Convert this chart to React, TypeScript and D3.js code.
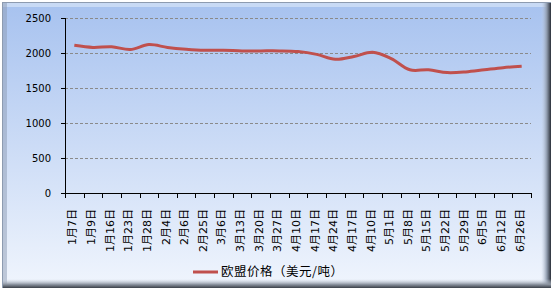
import React, { useEffect, useRef } from "react";
import * as d3 from "d3";

const categories = ["1月7日","1月9日","1月16日","1月23日","1月28日","2月4日","2月6日","2月25日","3月6日","3月13日","3月20日","3月27日","4月10日","4月17日","4月24日","4月17日","4月10日","5月1日","5月8日","5月15日","5月22日","5月29日","6月5日","6月12日","6月26日"];
const values = [2110,2080,2090,2050,2120,2080,2055,2040,2040,2030,2030,2030,2020,1980,1910,1950,2010,1920,1760,1760,1720,1730,1760,1790,1810];
const yTicks = [0,500,1000,1500,2000,2500];
const seriesName = "欧盟价格（美元/吨）";

const W = 553, H = 290;
const plot = { left: 65, right: 531, top: 18, bottom: 193 };

export default function App() {
  const ref = useRef<SVGSVGElement>(null);
  useEffect(() => {
    const svg = d3.select(ref.current);
    svg.selectAll("*").remove();
    const defs = svg.append("defs");
    const bg = defs.append("linearGradient").attr("id", "bg").attr("x1", 0).attr("y1", 0).attr("x2", 0).attr("y2", 1);
    bg.append("stop").attr("offset", "0%").attr("stop-color", "#a7c2ef");
    bg.append("stop").attr("offset", "100%").attr("stop-color", "#f0f5fd");
    const rg = defs.append("linearGradient").attr("id", "rg").attr("x1", 0).attr("y1", 0).attr("x2", 1).attr("y2", 0);
    rg.append("stop").attr("offset", "0%").attr("stop-color", "#c8d4e6").attr("stop-opacity", 0);
    rg.append("stop").attr("offset", "60%").attr("stop-color", "#8a96a8");
    rg.append("stop").attr("offset", "100%").attr("stop-color", "#2a2f38");
    const bgr = defs.append("linearGradient").attr("id", "bgr").attr("x1", 0).attr("y1", 0).attr("x2", 0).attr("y2", 1);
    bgr.append("stop").attr("offset", "0%").attr("stop-color", "#c8d0dc").attr("stop-opacity", 0);
    bgr.append("stop").attr("offset", "60%").attr("stop-color", "#8c94a0");
    bgr.append("stop").attr("offset", "100%").attr("stop-color", "#3a3f48");

    // frame
    svg.append("rect").attr("x", 0).attr("y", 0).attr("width", W).attr("height", H).attr("fill", "#ffffff");
    svg.append("rect").attr("x", 2.5).attr("y", 2.5).attr("width", 548).attr("height", 285).attr("fill", "url(#bg)").attr("stroke", "#8d9bb0");
    svg.append("rect").attr("x", 3).attr("y", 3).attr("width", 547).attr("height", 4).attr("fill", "#d6e4f8").attr("opacity", 0.7);
    svg.append("rect").attr("x", 3).attr("y", 3).attr("width", 4).attr("height", 284).attr("fill", "#8e9cb4").attr("opacity", 0.5);
    svg.append("rect").attr("x", 541).attr("y", 3).attr("width", 10).attr("height", 285).attr("fill", "url(#rg)");
    svg.append("rect").attr("x", 3).attr("y", 279).attr("width", 548).attr("height", 9).attr("fill", "url(#bgr)");

    const x = d3.scaleBand<number>().domain(d3.range(categories.length)).range([plot.left, plot.right]);
    const y = d3.scaleLinear().domain([0, 2500]).range([plot.bottom, plot.top]);

    // gridlines
    svg.append("g").selectAll("line").data(yTicks.filter(d => d > 0)).join("line")
      .attr("x1", plot.left).attr("x2", plot.right)
      .attr("y1", d => Math.round(y(d)) + 0.5).attr("y2", d => Math.round(y(d)) + 0.5)
      .attr("stroke", "#8a8a8a").attr("stroke-dasharray", "3,2");

    // y axis
    svg.append("line").attr("x1", plot.left + 0.5).attr("x2", plot.left + 0.5).attr("y1", plot.top).attr("y2", plot.bottom).attr("stroke", "#000");
    svg.append("g").selectAll("line").data(yTicks).join("line")
      .attr("x1", plot.left - 4).attr("x2", plot.left)
      .attr("y1", d => Math.round(y(d)) + 0.5).attr("y2", d => Math.round(y(d)) + 0.5).attr("stroke", "#000");
    svg.append("g").selectAll("text").data(yTicks).join("text")
      .attr("x", 51).attr("y", d => y(d)).attr("dy", "0.36em").attr("text-anchor", "end")
      .attr("font-family", "Verdana, 'DejaVu Sans', sans-serif").attr("font-size", 10).attr("fill", "#000")
      .text(d => d);

    // x axis
    svg.append("line").attr("x1", plot.left).attr("x2", plot.right).attr("y1", plot.bottom + 0.5).attr("y2", plot.bottom + 0.5).attr("stroke", "#000");
    const bounds = d3.range(categories.length + 1).map(i => plot.left + i * x.step());
    svg.append("g").selectAll("line").data(bounds).join("line")
      .attr("x1", d => Math.round(d) + 0.5).attr("x2", d => Math.round(d) + 0.5)
      .attr("y1", plot.bottom).attr("y2", plot.bottom + 5).attr("stroke", "#000");
    svg.append("g").selectAll("text").data(categories).join("text")
      .attr("transform", (d, i) => `translate(${x(i)! + x.bandwidth() / 2 + 2},209) rotate(-90)`)
      .attr("text-anchor", "end")
      .attr("font-family", "'DejaVu Sans', 'Noto Sans CJK SC', sans-serif").attr("font-size", 11).attr("fill", "#000")
      .text(d => d);

    // line
    const line = d3.line<number>()
      .x((d, i) => x(i)! + x.bandwidth() / 2)
      .y(d => y(d))
      .curve(d3.curveCatmullRom.alpha(0.5));
    svg.append("path").datum(values).attr("d", line).attr("fill", "none")
      .attr("stroke", "#c0504d").attr("stroke-width", 3).attr("stroke-linejoin", "round");

    // legend
    svg.append("line").attr("x1", 193).attr("x2", 218).attr("y1", 272).attr("y2", 272).attr("stroke", "#c0504d").attr("stroke-width", 3);
    svg.append("text").attr("x", 221).attr("y", 272).attr("dy", "0.35em")
      .attr("font-family", "'Noto Sans CJK SC', sans-serif").attr("font-size", 12.5).attr("letter-spacing", 0.5).attr("fill", "#000")
      .text(seriesName);
  }, []);
  return <svg ref={ref} width={W} height={H} style={{ position: "absolute", left: 0, top: 0 }} />;
}
